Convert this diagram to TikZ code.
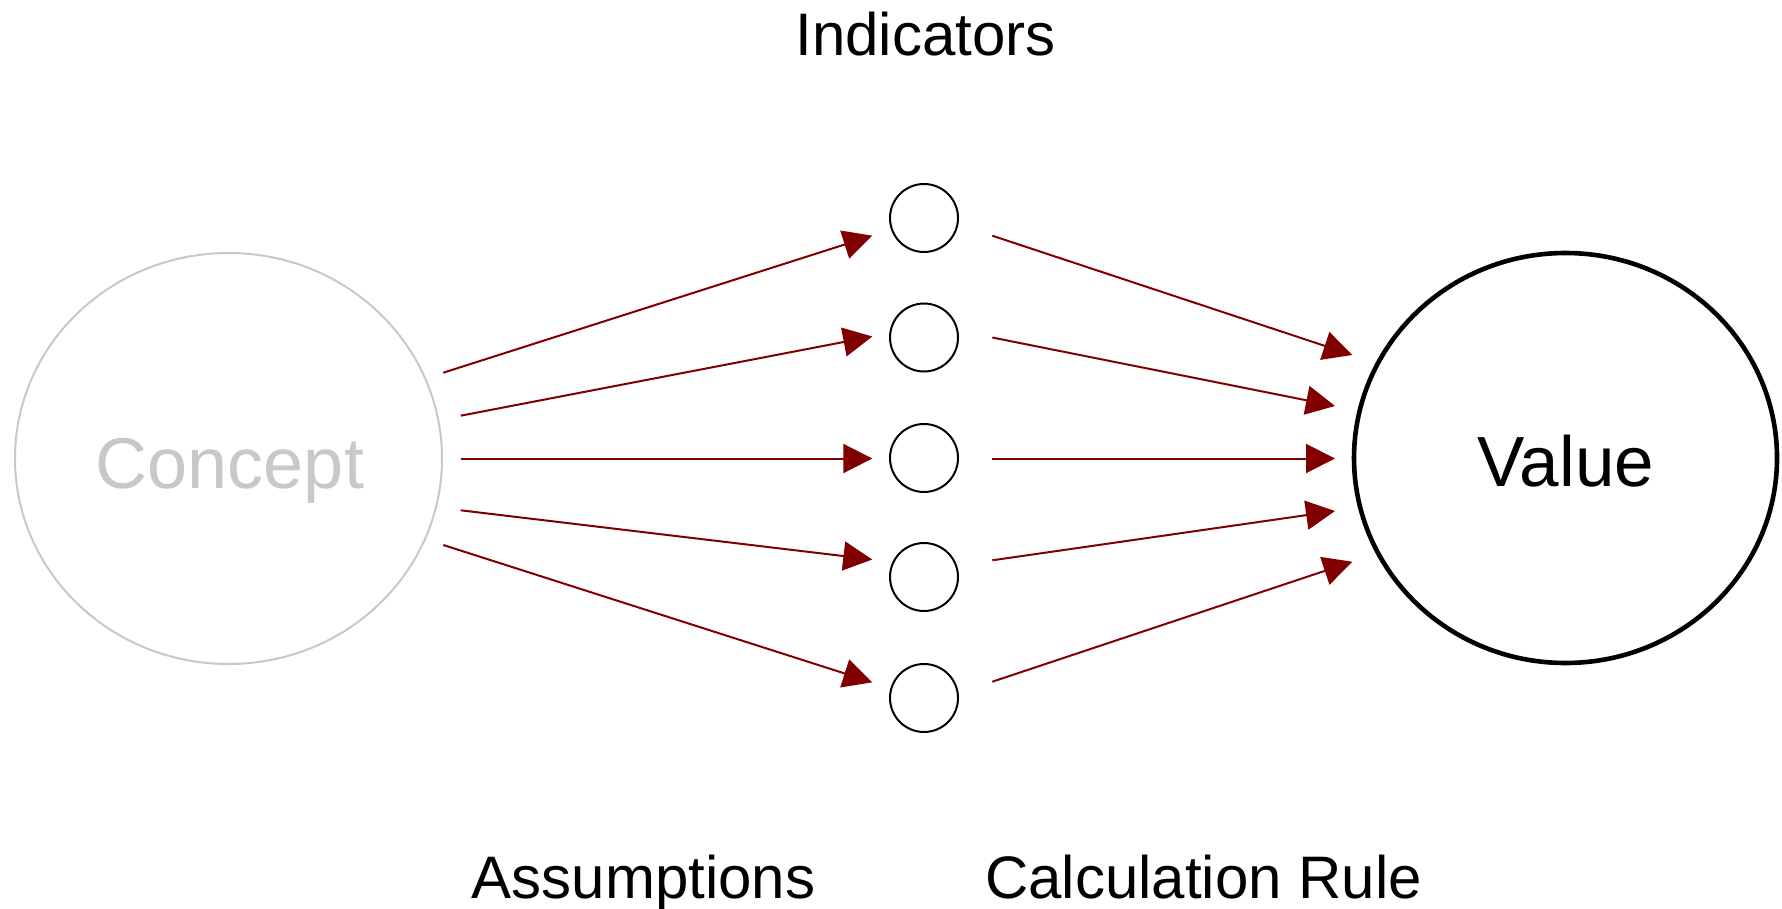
\documentclass[tikz,border=0pt]{standalone}
\usepackage{fontspec}
\setmainfont{Liberation Sans}
\usetikzlibrary{shapes.geometric,arrows.meta}
\definecolor{arrowred}{RGB}{128,0,0}
\definecolor{conceptgray}{RGB}{200,200,200}
\tikzset{
  conn/.style={draw=arrowred, line width=1pt, -{Triangle[length=14.5pt,width=14.5pt]}},
  ind/.style={circle, draw=black, line width=1pt, minimum size=34pt, inner sep=0pt, outer sep=0pt},
  lbl/.style={anchor=base, inner sep=0pt, font=\fontsize{30}{36}\selectfont},
}
\begin{document}
\begin{tikzpicture}[x=0.5pt,y=-0.5pt]
\useasboundingbox (0,0) rectangle (1782,909);
% big ellipses
\node[ellipse, draw=conceptgray, line width=1pt, minimum width=213.5pt, minimum height=205.5pt, inner sep=0pt] (concept) at (228.5,458.5) {};
\node[ellipse, draw=black, line width=2.3pt, minimum width=211.5pt, minimum height=205pt, inner sep=0pt] (value) at (1565.5,458) {};
\node[lbl, text=conceptgray, font=\fontsize{36}{42}\selectfont] (concepttxt) at (230,488) {Concept};
\node[lbl, font=\fontsize{35.5}{42}\selectfont] (valuetxt) at (1566,486) {Value};
% indicator circles
\node[ind] (i1) at (924,218) {};
\node[ind] (i2) at (924,337.5) {};
\node[ind] (i3) at (924,458) {};
\node[ind] (i4) at (924,577) {};
\node[ind] (i5) at (924,698) {};
% labels
\node[lbl] (indicators) at (925.5,56) {Indicators};
\node[lbl] (assumptions) at (643.5,898) {Assumptions};
\node[lbl] (calcrule) at (1203.5,898) {Calculation Rule};
% connector end points
\coordinate (a1s) at (443.3,372.7); \coordinate (a1e) at (872.3,235.7);
\coordinate (a2s) at (460.7,415.7); \coordinate (a2e) at (872.3,336.5);
\coordinate (a3s) at (460.7,458.5); \coordinate (a3e) at (872.3,458.5);
\coordinate (a4s) at (460.7,510.3); \coordinate (a4e) at (872.3,559.5);
\coordinate (a5s) at (443.3,545);   \coordinate (a5e) at (872.3,682.3);
\coordinate (b1s) at (992.3,235.7); \coordinate (b1e) at (1352.3,355);
\coordinate (b2s) at (992.3,337.5); \coordinate (b2e) at (1335,406);
\coordinate (b3s) at (992.3,458.5); \coordinate (b3e) at (1335,458.5);
\coordinate (b4s) at (992.3,560.3); \coordinate (b4e) at (1335,511);
\coordinate (b5s) at (992.3,681.7); \coordinate (b5e) at (1352.3,561.7);
\foreach \k in {1,...,5}{
  \draw[conn] (a\k s) -- (a\k e);
  \draw[conn] (b\k s) -- (b\k e);
}
\end{tikzpicture}
\end{document}
